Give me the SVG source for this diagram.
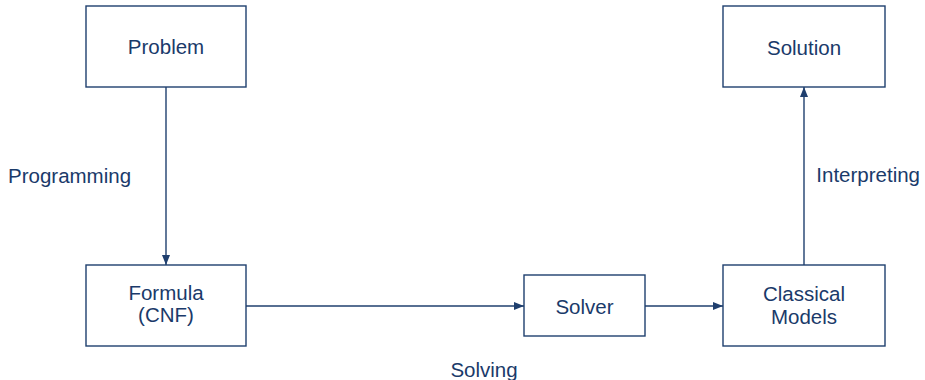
<svg xmlns="http://www.w3.org/2000/svg" width="925" height="380" viewBox="0 0 925 380">
<defs>
<style>
.box{fill:#fff;stroke:#1f3f6e;stroke-width:1.4}
.t{font-family:"Liberation Sans",Arial,sans-serif;font-size:20.5px;fill:#1a3a6a;text-anchor:middle}
.lbl{font-family:"Liberation Sans",Arial,sans-serif;font-size:20.5px;fill:#1a3a6a}
.c{fill:none;stroke:#1f3f6e;stroke-width:1.4}
</style>
<marker id="ah" viewBox="0 0 10 8" refX="10" refY="4" markerWidth="10" markerHeight="8" markerUnits="userSpaceOnUse" orient="auto">
<path d="M0,0 L10,4 L0,8 z" fill="#1f3f6e"/>
</marker>
</defs>
<rect width="925" height="380" fill="#fff"/>
<g id="connectors">
<line class="c" x1="166" y1="87" x2="166" y2="265" marker-end="url(#ah)"/>
<line class="c" x1="246" y1="306" x2="524" y2="306" marker-end="url(#ah)"/>
<line class="c" x1="645" y1="306" x2="723" y2="306" marker-end="url(#ah)"/>
<line class="c" x1="804" y1="265" x2="804" y2="87" marker-end="url(#ah)"/>
<text class="lbl" x="8" y="183">Programming</text>
<text class="lbl" x="920" y="182" text-anchor="end">Interpreting</text>
<text class="t" x="484" y="377">Solving</text>
</g>
<g id="problem">
<rect class="box" x="86" y="6" width="160" height="81"/>
<text class="t" x="166" y="54">Problem</text>
</g>
<g id="formula">
<rect class="box" x="86" y="265" width="160" height="81"/>
<text class="t" x="166" y="300">Formula</text>
<text class="t" x="166" y="322">(CNF)</text>
</g>
<g id="solver">
<rect class="box" x="524" y="275" width="121" height="61"/>
<text class="t" x="584.5" y="314">Solver</text>
</g>
<g id="classical">
<rect class="box" x="723" y="265" width="162" height="81"/>
<text class="t" x="804" y="301">Classical</text>
<text class="t" x="804" y="324">Models</text>
</g>
<g id="solution">
<rect class="box" x="723" y="6" width="162" height="81"/>
<text class="t" x="804" y="55">Solution</text>
</g>
</svg>
